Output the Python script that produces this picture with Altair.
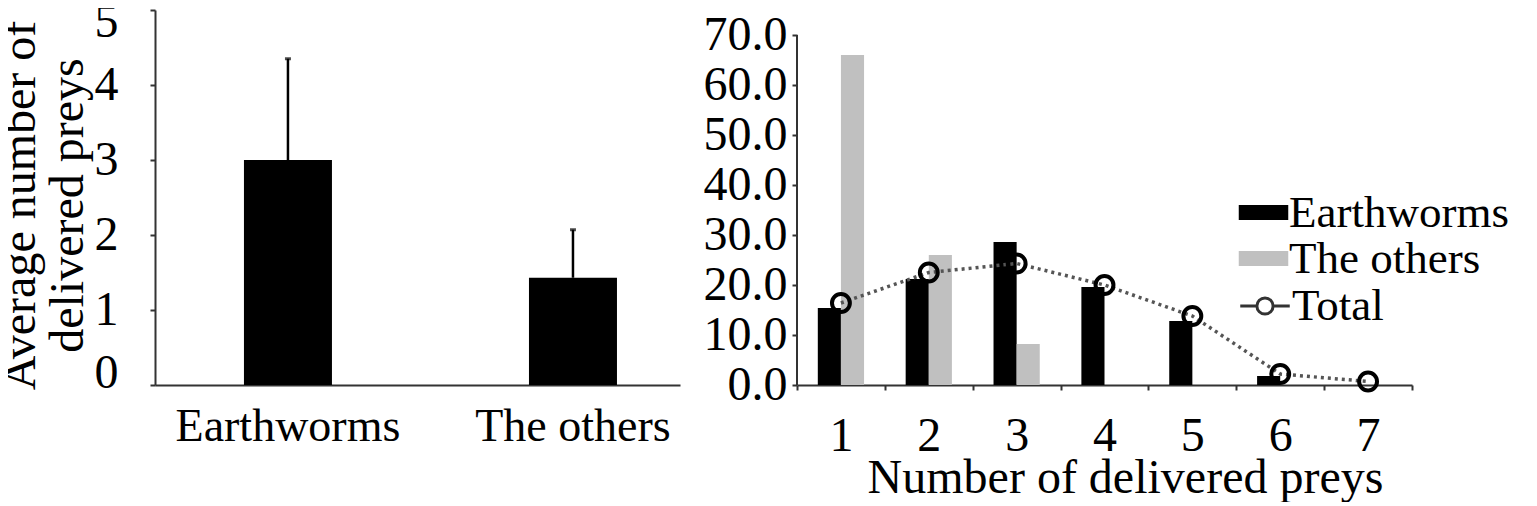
import altair as alt
import pandas as pd

FONT = "Liberation Serif"

# ---- left panel data ----
prey_types = ["Earthworms", "The others"]
mean_delivered = [3.0, 1.43]
sd_delivered = [1.35, 0.64]

# ---- right panel data ----
n_preys = ["1", "2", "3", "4", "5", "6", "7"]
pct_earthworms = [15.4, 21.2, 28.6, 19.6, 12.8, 1.8, 0.0]
pct_others = [66.0, 26.0, 8.2, 0.0, 0.0, 0.0, 0.0]
pct_total = [16.4, 22.5, 24.3, 20.0, 13.8, 2.2, 0.7]
pct_axis_extent = [0, 70]

left_df = pd.DataFrame({
    "prey": prey_types,
    "mean": mean_delivered,
    "upper": [m + s for m, s in zip(mean_delivered, sd_delivered)],
})

bar_df = pd.DataFrame({
    "n": n_preys * 2,
    "series": [prey_types[0]] * len(n_preys) + [prey_types[1]] * len(n_preys),
    "pct": pct_earthworms + pct_others,
})
tot_df = pd.DataFrame({"n": n_preys, "pct": pct_total, "label": ["Total"] * len(n_preys)})
ext_df = pd.DataFrame({"y0": [pct_axis_extent[0]], "y1": [pct_axis_extent[1]]})

AX = "#333333"
YTITLE = ["Average number of", "delivered preys"]

# ---------------- left chart ----------------
xl = alt.X(
    "prey:N", sort=prey_types, title=None,
    scale=alt.Scale(paddingInner=0.5, paddingOuter=0.171, align=0.633),
    axis=alt.Axis(labelAngle=0, labelFontSize=46, labelPadding=19, ticks=False, tickSize=0,
                  labelLimit=0),
)
yaxis_l = alt.Axis(
    values=[0, 1, 2, 3, 4, 5], format="d",
    titleFontSize=48, titleLineHeight=48, titleAngle=270, titleX=-159, titleY=195,
    titleBaseline="top", titleAlign="center", titleFontWeight="normal",
    labelFontSize=48, labelPadding=32, tickSize=5, labelFlush=True, labelFlushOffset=12,
)
yscale_l = alt.Scale(domain=[0, 5], nice=False)

bars_l = alt.Chart(left_df).mark_bar(size=88, color="black").encode(
    x=xl, y=alt.Y("mean:Q", scale=yscale_l, axis=yaxis_l, title=YTITLE)
)
err_l = alt.Chart(left_df).mark_rule(color="black", strokeWidth=2.5).encode(
    x=xl, y=alt.Y("mean:Q", scale=yscale_l, axis=yaxis_l, title=YTITLE), y2="upper:Q"
)
cap_l = alt.Chart(left_df).mark_tick(color="black", size=6, thickness=3).encode(
    x=xl, y=alt.Y("upper:Q", scale=yscale_l, axis=yaxis_l, title=YTITLE)
)
left = alt.layer(bars_l, err_l, cap_l).properties(width=525, height=375)

# ---------------- right chart ----------------
RECT_PATH = "M-1.1,-0.33H1.1V0.33H-1.1Z"
TOTAL_PATH = ("M-1.1,0H-0.36M0.36,0H1.1"
              "M-0.36,0A0.36,0.36,0,1,1,0.36,0A0.36,0.36,0,1,1,-0.36,0")

xr = alt.X(
    "n:N", sort=n_preys,
    scale=alt.Scale(paddingInner=0, paddingOuter=0),
    axis=alt.Axis(labelAngle=0, labelFontSize=48, tickBand="extent", tickSize=5, labelPadding=22,
                  title="Number of delivered preys", titleFontSize=48, titleFontWeight="normal",
                  titleY=69, titleX=328, titleBaseline="top"),
)
yscale_r = alt.Scale(domain=[0, 75], nice=False)
yaxis_r = alt.Axis(values=[0, 10, 20, 30, 40, 50, 60, 70], format=".1f", domain=False,
                   labelFontSize=48, labelPadding=5, tickSize=5, title=None)

bars_r = alt.Chart(bar_df).mark_bar().encode(
    x=xr,
    xOffset=alt.XOffset("series:N", sort=prey_types,
                        scale=alt.Scale(paddingInner=0, paddingOuter=0.9)),
    y=alt.Y("pct:Q", scale=yscale_r, axis=yaxis_r, title=None),
    color=alt.Color(
        "series:N", sort=prey_types,
        scale=alt.Scale(domain=prey_types, range=["black", "#c0c0c0"]),
        legend=alt.Legend(title=None, orient="none", legendX=1086, legendY=180,
                          symbolType=RECT_PATH, symbolSize=2025, symbolStrokeWidth=0,
                          labelFontSize=45, labelOffset=3, rowPadding=0, padding=0,
                          labelLimit=0),
    ),
)
axis_line_r = alt.Chart(ext_df).mark_rule(color=AX, strokeWidth=2).encode(
    x=alt.value(0),
    y=alt.Y("y0:Q", scale=yscale_r, axis=yaxis_r, title=None),
    y2="y1:Q",
)
line_r = alt.Chart(tot_df).mark_line(color="#555555", strokeWidth=3.5, strokeDash=[3, 4]).encode(
    x=xr, y=alt.Y("pct:Q", scale=yscale_r, axis=yaxis_r, title=None)
)
pts_r = alt.Chart(tot_df).mark_point(filled=False, size=320, strokeWidth=4, color="black").encode(
    x=xr, y=alt.Y("pct:Q", scale=yscale_r, axis=yaxis_r, title=None),
    opacity=alt.Opacity(
        "label:N", scale=alt.Scale(domain=["Total"], range=[1]),
        legend=alt.Legend(title=None, orient="none", legendX=1086, legendY=272,
                          symbolType=TOTAL_PATH, symbolSize=2025, symbolStrokeWidth=3,
                          symbolStrokeColor="#333333", symbolFillColor="transparent",
                          labelFontSize=45, labelOffset=3, padding=0, labelLimit=0),
    ),
)
right = alt.layer(bars_r, axis_line_r, line_r, pts_r).properties(width=615, height=375)

chart = alt.hconcat(left, right, spacing=23).properties(
    padding={"left": -12, "top": -10, "right": 0, "bottom": 0}
).configure_view(stroke=None).configure_axis(
    labelFont=FONT, titleFont=FONT, labelColor="black", titleColor="black",
    domainColor=AX, domainWidth=2, tickColor=AX, tickWidth=2, grid=False,
).configure_legend(labelFont=FONT, labelColor="black")

chart.save("out.html", embed_options={"renderer": "svg", "actions": False})
